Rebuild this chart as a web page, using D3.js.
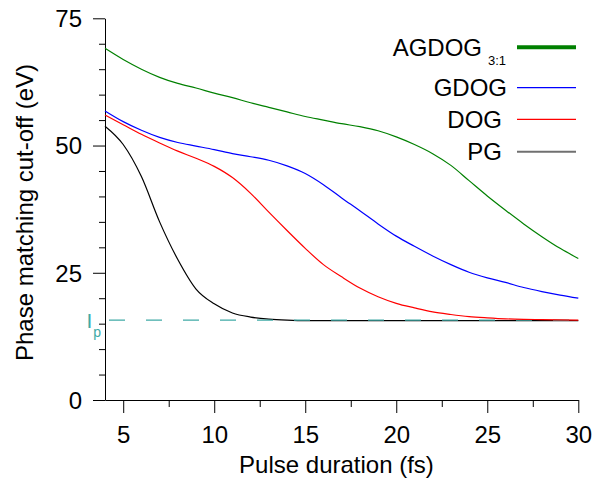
<!DOCTYPE html>
<html>
<head>
<meta charset="utf-8">
<script src="https://cdn.jsdelivr.net/npm/d3@7"></script>
<style>
  html, body { margin: 0; padding: 0; background: #fff; }
  svg { display: block; font-family: "Liberation Sans", Arial, sans-serif; }
</style>
</head>
<body>
<svg id="chart" width="594" height="481"></svg>
<script>
// ---- data ----
const pulseDuration = [4,5,6,7,8,9,10,11,12,13,14,15,16,17,18,19,20,21,22,23,24,25,26,27,28,29,30];
const agdog = [69.1,66.9,65.0,63.4,62.2,61.3,60.3,59.4,58.4,57.5,56.6,55.7,55.0,54.3,53.7,52.9,51.7,50.2,48.4,46.1,43.1,40.1,37.3,34.6,32.1,29.8,27.8];
const gdog  = [56.8,54.7,53.0,51.6,50.6,49.9,49.2,48.4,47.8,47.1,46.0,44.5,42.3,39.7,37.2,34.6,32.2,30.2,28.3,26.6,25.1,24.0,23.1,22.1,21.3,20.6,20.0];
const dog   = [56.0,54.1,52.2,50.5,48.9,47.5,45.9,43.7,40.6,36.9,33.3,29.8,26.6,24.2,22.0,20.3,19.0,18.1,17.3,16.8,16.4,16.15,15.95,15.85,15.8,15.75,15.7];
const pg    = [53.8,50.2,43.9,35.0,27.6,21.8,18.9,17.1,16.3,15.9,15.7,15.6,15.6,15.6,15.6,15.6,15.6,15.6,15.6,15.6,15.6,15.6,15.6,15.6,15.6,15.6,15.6];
const ionizationPotential = 15.7;
const xMajorTicks = [5,10,15,20,25,30];
const xMinorTicks = [7.5,12.5,17.5,22.5,27.5];
const yMajorTicks = [0,25,50,75];
const yMinorTicks = [5,10,15,20,30,35,40,45,55,60,65,70];
const seriesNames = ["AGDOG", "GDOG", "DOG", "PG"];
const xTitle = "Pulse duration (fs)";
const yTitle = "Phase matching cut-off (eV)";

// ---- layout ----
const svg = d3.select("#chart");
const x = d3.scaleLinear().domain([4, 30]).range([105, 578.3]);
const y = d3.scaleLinear().domain([0, 75]).range([400, 18.3]);
const FS = 24;

// axes
svg.append("g").attr("transform", "translate(0,400)")
  .call(d3.axisBottom(x).tickValues(xMajorTicks).tickSize(13).tickSizeOuter(0).tickPadding(13).tickFormat(d3.format("d")));
svg.append("g").attr("transform", "translate(0,400)")
  .call(d3.axisBottom(x).tickValues(xMinorTicks).tickSize(7).tickSizeOuter(0).tickFormat(""))
  .select(".domain").remove();
const gy = svg.append("g").attr("transform", "translate(105,0)")
  .call(d3.axisLeft(y).tickValues(yMajorTicks).tickSize(12).tickSizeOuter(0).tickPadding(11).tickFormat(d3.format("d")));
svg.append("g").attr("transform", "translate(105,0)")
  .call(d3.axisLeft(y).tickValues(yMinorTicks).tickSize(6).tickSizeOuter(0).tickFormat(""))
  .select(".domain").remove();

svg.selectAll(".tick text").attr("font-size", FS).attr("font-family", "Liberation Sans, Arial, sans-serif").attr("fill", "#000");
svg.selectAll(".domain, .tick line").attr("stroke", "#000").attr("stroke-width", 1);
gy.selectAll(".tick text").attr("dy", "0.35em");

// titles
svg.append("text").attr("x", 336.5).attr("y", 473).attr("text-anchor", "middle")
  .attr("font-size", FS).text(xTitle);
svg.append("text").attr("transform", "translate(33,212.5) rotate(-90)").attr("text-anchor", "middle")
  .attr("font-size", FS).text(yTitle);

// lines
const line = vals => d3.line().x((d, i) => x(pulseDuration[i])).y(d => y(d)).curve(d3.curveMonotoneX)(vals);

svg.append("path").attr("d", line(pg)).attr("fill", "none").attr("stroke", "#000").attr("stroke-width", 1.2);

// Ip dashed line
svg.append("line")
  .attr("x1", x(4)).attr("x2", x(30))
  .attr("y1", y(ionizationPotential)).attr("y2", y(ionizationPotential))
  .attr("stroke", "#40aaa6").attr("stroke-width", 1.3)
  .attr("stroke-dasharray", "16,21").attr("stroke-dashoffset", 33);

svg.append("path").attr("d", line(dog)).attr("fill", "none").attr("stroke", "#ff0000").attr("stroke-width", 1.2);
svg.append("path").attr("d", line(gdog)).attr("fill", "none").attr("stroke", "#0000ff").attr("stroke-width", 1.2);
svg.append("path").attr("d", line(agdog)).attr("fill", "none").attr("stroke", "#008000").attr("stroke-width", 1.2);

// Ip label
const ip = svg.append("text").attr("x", 86.5).attr("y", y(ionizationPotential) + 8).attr("fill", "#40aaa6").attr("font-size", 21);
ip.append("tspan").text("I");
ip.append("tspan").attr("font-size", 14).attr("dy", 9).attr("dx", 1).text("p");

// legend
const legend = [
  {name: seriesNames[0], sub: "3:1", color: "#008000", w: 4, ly: 47.3, tx: 482},
  {name: seriesNames[1], color: "#0000ff", w: 1.2, ly: 87.7, tx: 507},
  {name: seriesNames[2], color: "#ff0000", w: 1.2, ly: 119.3, tx: 502},
  {name: seriesNames[3], color: "#707070", w: 2, ly: 151.7, tx: 502}
];
legend.forEach(L => {
  svg.append("line").attr("x1", 517).attr("x2", 576).attr("y1", L.ly).attr("y2", L.ly)
    .attr("stroke", L.color).attr("stroke-width", L.w);
  svg.append("text").attr("x", L.tx).attr("y", L.ly + 8.6).attr("text-anchor", "end")
    .attr("font-size", FS).text(L.name);
  if (L.sub) {
    svg.append("text").attr("x", L.tx + 6).attr("y", L.ly + 17.5).attr("font-size", 13).text(L.sub);
  }
});
</script>
</body>
</html>
